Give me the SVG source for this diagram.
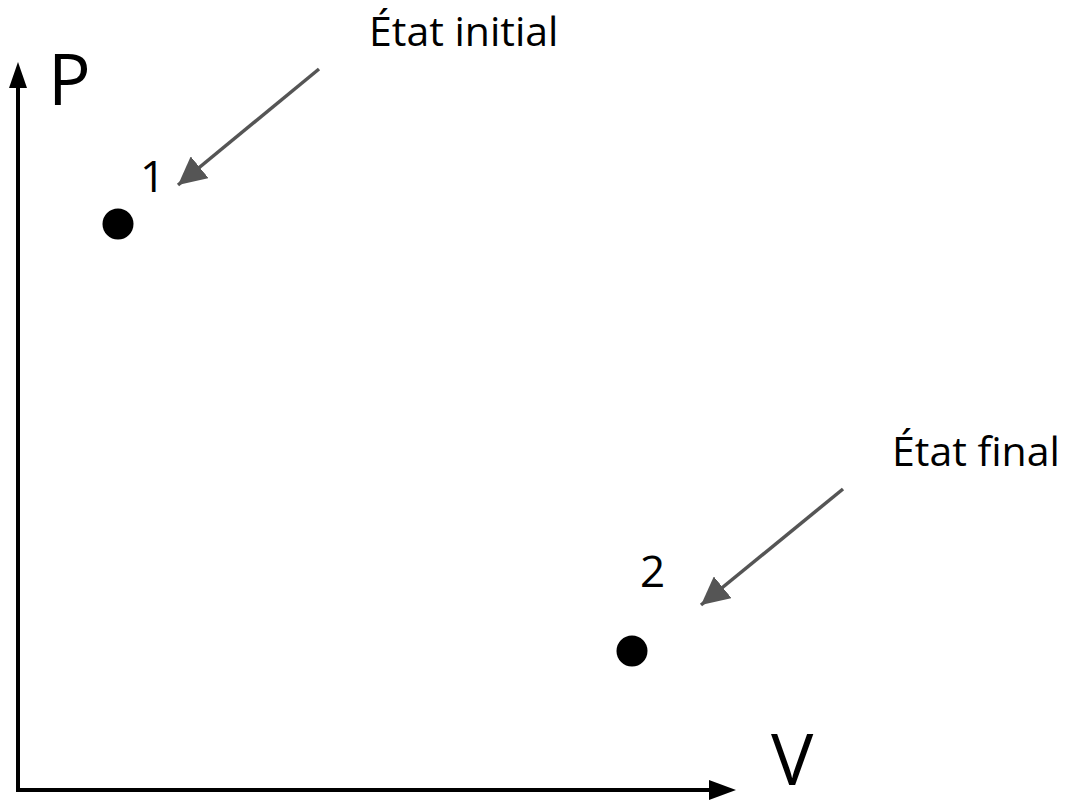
<svg xmlns="http://www.w3.org/2000/svg" width="1071" height="800" viewBox="0 0 1071 800">
<style>
text{font-family:"Open Sans","Noto Sans",sans-serif;fill:#000}
.axis{stroke:#000;stroke-width:4;fill:none}
.ptr{stroke:#555;stroke-width:3.5;fill:none}
.lbl{font-size:41px}
.num{font-size:44px}
.ax{font-size:71px}
</style>
<defs>
<marker id="ahg" viewBox="0 0 10 10" refX="10" refY="5" markerWidth="8" markerHeight="8" orient="auto">
<path d="M0,0 L10,5 L0,10 z" fill="#555"/>
</marker>
</defs>
<rect width="1071" height="800" fill="#fff"/>
<g id="axes">
<path class="axis" d="M18,790 L18,88"/>
<path d="M18,62 L27,88 L9,88 z" fill="#000"/>
<path class="axis" d="M16,790 L710,790"/>
<path d="M736,790 L709,780 L709,800 z" fill="#000"/>
<text class="ax" x="48" y="105">P</text>
<text class="ax" x="771" y="785">V</text>
</g>
<g id="state1">
<circle cx="118" cy="224" r="15.5" fill="#000"/>
<text class="num" x="140" y="192">1</text>
</g>
<g id="state2">
<circle cx="632" cy="651" r="15.5" fill="#000"/>
<text class="num" x="640" y="587">2</text>
</g>
<g id="label-initial">
<text class="lbl" x="369" y="46">État initial</text>
</g>
<g id="label-final">
<text class="lbl" x="892" y="466">État final</text>
</g>
<g id="connectors">
<path class="ptr" d="M319,69 L178,185" marker-end="url(#ahg)"/>
<path class="ptr" d="M843,489 L701,605" marker-end="url(#ahg)"/>
</g>
</svg>
